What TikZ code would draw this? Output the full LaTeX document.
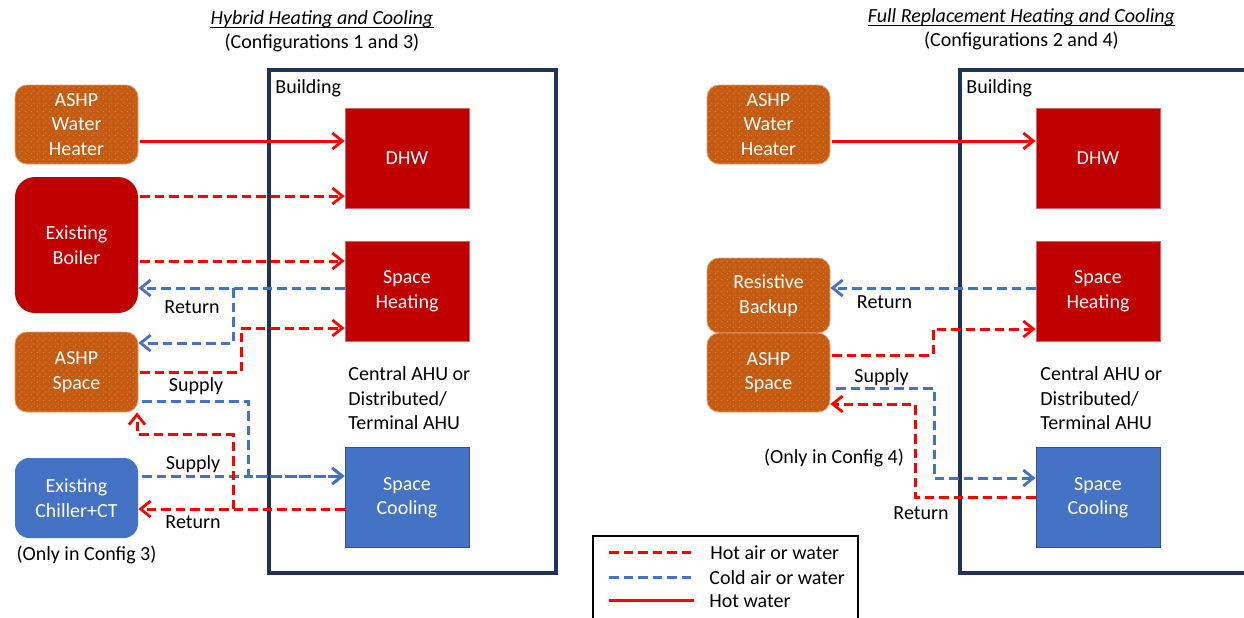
\documentclass[tikz,border=0pt]{standalone}
\usepackage{fontspec}
\setmainfont{Carlito}
\usetikzlibrary{arrows.meta,patterns,calc}

\definecolor{ashp}{HTML}{C55A11}
\definecolor{heatbox}{HTML}{C00000}
\definecolor{coolbox}{HTML}{4472C4}
\definecolor{cooledge}{HTML}{2F528F}
\definecolor{hotline}{HTML}{FF0000}
\definecolor{coldline}{HTML}{4472C4}
\definecolor{navy}{HTML}{1F3356}

% small staggered dots used on the heat-pump units
\pgfdeclarepatternformonly{ashpdots}{\pgfpointorigin}{\pgfpoint{3pt}{3pt}}{\pgfpoint{3pt}{3pt}}{%
  \pgfpathcircle{\pgfpoint{0.75pt}{0.75pt}}{0.28pt}%
  \pgfpathcircle{\pgfpoint{2.25pt}{2.25pt}}{0.28pt}%
  \pgfusepath{fill}}

\tikzset{
  txt/.style={font=\fontsize{10pt}{12.25pt}\selectfont, text=black, inner sep=0pt},
  unit/.style={txt, text=white, align=center, minimum width=61.5pt, rounded corners=6pt},
  ashpunit/.style={unit, fill=ashp, draw=ashp!55!white, line width=0.4pt,
    postaction={pattern=ashpdots, pattern color=white!45!ashp}},
  boilerunit/.style={unit, fill=heatbox, rounded corners=10pt},
  chillerunit/.style={unit, fill=coolbox, rounded corners=7pt},
  load/.style={txt, text=white, align=center, minimum width=62pt, minimum height=50pt},
  heatload/.style={load, fill=heatbox, draw=heatbox!60!white, line width=0.4pt},
  coolload/.style={load, fill=coolbox, draw=cooledge, line width=0.5pt},
  frame/.style={draw=navy, line width=2.2pt},
  tip/.style={-{Straight Barb[length=5pt,width=8pt,line width=1.4pt]}},
  hot/.style={draw=hotline, line width=1.5pt, dash pattern=on 4.75pt off 2.5pt},
  cold/.style={draw=coldline, line width=1.5pt, dash pattern=on 4.75pt off 2.5pt},
  hotwater/.style={draw=hotline, line width=1.5pt},
  uline/.style={draw=black, line width=0.55pt},
}

\begin{document}
\begin{tikzpicture}[x=0.5pt,y=-0.5pt]
\useasboundingbox (0,0) rectangle (1244,617);
\clip (0,0) rectangle (1244,617);
\fill[white] (0,0) rectangle (1244,617);

% ---------------- titles ----------------
\node[txt, anchor=base] (t1) at (322,24) {\itshape Hybrid Heating and Cooling};
\draw[uline] ([yshift=-1.6pt]t1.base west) -- ([yshift=-1.6pt]t1.base east);
\node[txt] (t1b) at (322,43) {(Configurations 1 and 3)};
\node[txt, anchor=base] (t2) at (1021.5,22) {\itshape Full Replacement Heating and Cooling};
\draw[uline] ([yshift=-1.6pt]t2.base west) -- ([yshift=-1.6pt]t2.base east);
\node[txt] (t2b) at (1021.5,41) {(Configurations 2 and 4)};

% ---------------- buildings ----------------
\draw[frame] (269,70) rectangle (556,573);
\draw[frame] (960,70) rectangle (1290,573);
\node[txt, anchor=west] (lbld) at (275,88) {Building};
\node[txt, anchor=west] (rbld) at (966,88) {Building};

% ---------------- hybrid side: plant ----------------
\node[ashpunit, minimum height=39.5pt] (lwh) at (76.5,124.5) {ASHP\\Water\\Heater};
\node[boilerunit, minimum height=68pt] (lboil) at (76.5,245) {Existing\\Boiler};
\node[ashpunit, minimum height=40pt] (lsp) at (76.5,372) {ASHP\\Space};
\node[chillerunit, minimum height=40pt] (lch) at (76.5,498) {Existing\\Chiller+CT};
\node[txt] (lonly) at (86.5,555) {(Only in Config 3)};

% ---------------- hybrid side: loads ----------------
\node[heatload] (ldhw) at (407,158) {DHW};
\node[heatload] (lsh) at (407,291) {Space\\Heating};
\node[coolload] (lsc) at (407,497.5) {Space\\Cooling};
\node[txt, anchor=west, align=left] (lahu) at (348,398.5) {Central AHU or\\Distributed/\\Terminal AHU};

% ---------------- full replacement side: plant ----------------
\node[ashpunit, minimum height=39.5pt] (rwh) at (768.5,124.5) {ASHP\\Water\\Heater};
\node[ashpunit, minimum height=37.5pt] (rrb) at (768.5,295.5) {Resistive\\Backup};
\node[ashpunit, minimum height=39.5pt] (rsp) at (768.5,372.5) {ASHP\\Space};
\node[txt] (ronly) at (834,458) {(Only in Config 4)};

% ---------------- full replacement side: loads ----------------
\node[heatload] (rdhw) at (1098,158) {DHW};
\node[heatload] (rsh) at (1098,291) {Space\\Heating};
\node[coolload] (rsc) at (1098,497.5) {Space\\Cooling};
\node[txt, anchor=west, align=left] (rahu) at (1040,398.5) {Central AHU or\\Distributed/\\Terminal AHU};

% ---------------- hybrid side: connections ----------------
\draw[hotwater, tip, shorten <=1pt] (lwh.east |- 0,141) -- (ldhw.west |- 0,141);
\draw[hot, tip, shorten <=1pt] (lboil.east |- 0,196) -- (ldhw.west |- 0,196);
\draw[hot, tip, shorten <=1pt] (lboil.east |- 0,261) -- (lsh.west |- 0,261);
\draw[cold, tip] (lsh.west |- 0,288) -- (lboil.east |- 0,288);
\coordinate (lretsplit) at (233,288);
\draw[cold, tip] (lretsplit) -- (lretsplit |- 0,343) -- (lsp.east |- 0,343);
\draw[hot, tip, shorten <=1pt] (lsp.east |- 0,372) -| (241,328) -- (lsh.west |- 0,328);
\draw[cold, tip, shorten <=2pt] (lsp.east |- 0,401) -| (248,476) -- (lsc.west |- 0,476);
\draw[cold, tip, shorten <=2pt] (lch.east |- 0,476) -- (lsc.west |- 0,476);
\draw[hot, tip] (lsc.west |- 0,509) -- (lch.east |- 0,509);
\coordinate (lhotsplit) at (233,509);
\draw[hot, tip] (lhotsplit) |- (137,434) -- (137,434 |- lsp.south);

\node[txt] (lret1) at (192,307.5) {Return};
\node[txt] (lsup1) at (196,386) {Supply};
\node[txt] (lsup2) at (193,464) {Supply};
\node[txt] (lret2) at (193,522) {Return};

% ---------------- full replacement side: connections ----------------
\draw[hotwater, tip, shorten <=1pt] (rwh.east |- 0,141) -- (rdhw.west |- 0,141);
\draw[cold, tip] (rsh.west |- 0,288) -- (rrb.east |- 0,288);
\draw[hot, tip, shorten <=1pt] (rsp.east |- 0,355) -| (933,329) -- (rsh.west |- 0,329);
\draw[cold, tip, shorten <=3pt] (rsp.east |- 0,388) -| (934,478) -- (rsc.west |- 0,478);
\draw[hot, tip] (rsc.west |- 0,497) -| (915,404) -- (rsp.east |- 0,404);

\node[txt] (rret1) at (884.5,302) {Return};
\node[txt] (rsup) at (881.5,377) {Supply};
\node[txt] (rret2) at (921,513.5) {Return};

% ---------------- legend ----------------
\draw[black, line width=1.4pt] (593,536) rectangle (858,650);
\coordinate (lg1a) at (609,552); \coordinate (lg1b) at (694,552);
\coordinate (lg2a) at (609,577); \coordinate (lg2b) at (694,577);
\coordinate (lg3a) at (609,600); \coordinate (lg3b) at (694,600);
\draw[hot] (lg1a) -- (lg1b);
\draw[cold] (lg2a) -- (lg2b);
\draw[hotwater] (lg3a) -- (lg3b);
\node[txt, anchor=west] (lgt1) at (710,553) {Hot air or water};
\node[txt, anchor=west] (lgt2) at (709,577.5) {Cold air or water};
\node[txt, anchor=west] (lgt3) at (709,601) {Hot water};
\end{tikzpicture}
\end{document}
